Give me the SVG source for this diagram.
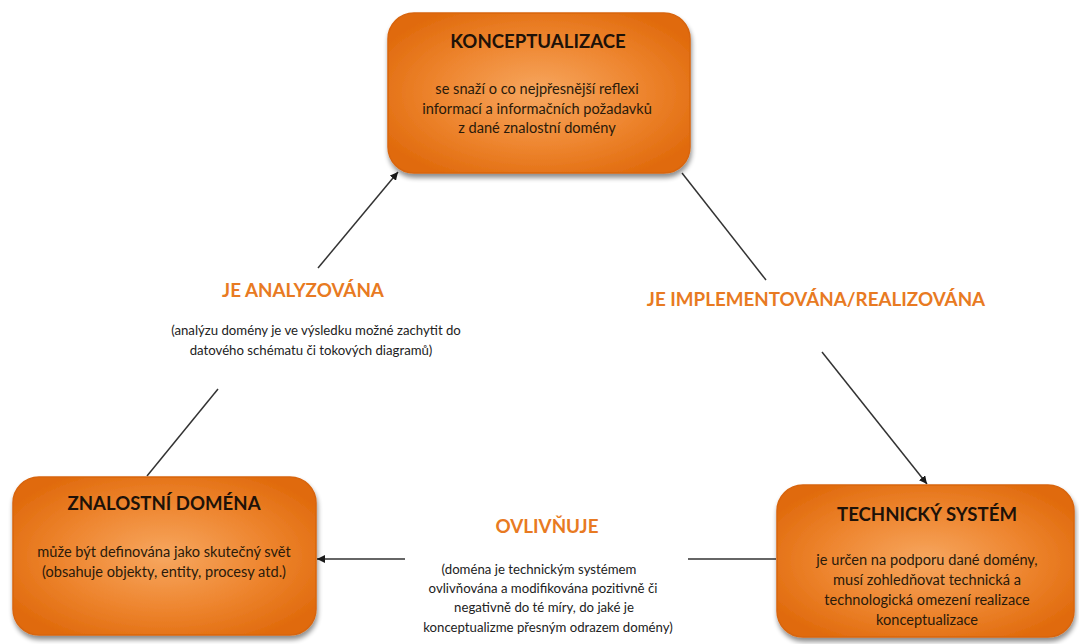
<svg xmlns="http://www.w3.org/2000/svg" width="1079" height="644" viewBox="0 0 1079 644">
  <defs>
    <radialGradient id="boxFill" cx="50%" cy="50%" r="60%">
      <stop offset="0%" stop-color="#f7a760"/>
      <stop offset="55%" stop-color="#ee8630"/>
      <stop offset="100%" stop-color="#e06a0c"/>
    </radialGradient>
    <filter id="shadow" x="-10%" y="-10%" width="125%" height="130%">
      <feGaussianBlur in="SourceAlpha" stdDeviation="2.5"/>
      <feOffset dx="1" dy="4" result="off"/>
      <feComponentTransfer><feFuncA type="linear" slope="0.45"/></feComponentTransfer>
      <feMerge><feMergeNode/><feMergeNode in="SourceGraphic"/></feMerge>
    </filter>
    <marker id="arrow" viewBox="0 0 10 10" refX="10" refY="5" markerWidth="8" markerHeight="8" orient="auto" markerUnits="userSpaceOnUse">
      <path d="M0,0 L10,5 L0,10 Z" fill="#1a1a1a"/>
    </marker>
    <style>
      .box { fill: url(#boxFill); stroke: #d8650e; stroke-width: 1.5; filter: url(#shadow); }
      .title { font-family: Lato, "Liberation Sans", sans-serif; font-weight: bold; font-size: 18.6px; fill: #1e1208; text-anchor: middle; }
      .body { font-family: Lato, "Liberation Sans", sans-serif; font-size: 14.6px; fill: #2a1a0a; text-anchor: middle; }
      .label { font-family: Lato, "Liberation Sans", sans-serif; font-weight: bold; font-size: 18.8px; fill: #e87a22; text-anchor: middle; }
      .note { font-family: Lato, "Liberation Sans", sans-serif; font-size: 13.2px; fill: #222; text-anchor: middle; }
      .conn { stroke: #333; stroke-width: 1.5; fill: none; }
    </style>
  </defs>

  <rect width="1079" height="644" fill="#ffffff"/>

  <!-- connectors -->
  <g id="connectors">
    <line class="conn" x1="147" y1="476" x2="218" y2="389"/>
    <line class="conn" x1="318" y1="268" x2="398" y2="172" marker-end="url(#arrow)"/>
    <line class="conn" x1="682" y1="173" x2="766" y2="280"/>
    <line class="conn" x1="822" y1="352" x2="927" y2="484" marker-end="url(#arrow)"/>
    <line class="conn" x1="776" y1="559" x2="688" y2="559"/>
    <line class="conn" x1="405" y1="559" x2="317" y2="559" marker-end="url(#arrow)"/>
  </g>

  <!-- edge labels -->
  <g id="label-analyzovana">
    <text class="label" x="303" y="297">JE ANALYZOVÁNA</text>
    <text class="note" x="316" y="335">(analýzu domény je ve výsledku možné zachytit do</text>
    <text class="note" x="311" y="355">datového schématu či tokových diagramů)</text>
  </g>
  <g id="label-implementovana">
    <text class="label" x="816" y="306">JE IMPLEMENTOVÁNA/REALIZOVÁNA</text>
  </g>
  <g id="label-ovlivnuje">
    <text class="label" x="547" y="533">OVLIVŇUJE</text>
    <text class="note" x="539" y="574">(doména je technickým systémem</text>
    <text class="note" x="543" y="593">ovlivňována a modifikována pozitivně či</text>
    <text class="note" x="544" y="612">negativně do té míry, do jaké je</text>
    <text class="note" x="548" y="632">konceptualizme přesným odrazem domény)</text>
  </g>

  <!-- nodes -->
  <g id="node-konceptualizace">
    <rect class="box" x="388" y="13" width="302" height="160" rx="26" ry="26"/>
    <text class="title" x="538" y="48">KONCEPTUALIZACE</text>
    <text class="body" x="537" y="94">se snaží o co nejpřesnější reflexi</text>
    <text class="body" x="537" y="114">informací a informačních požadavků</text>
    <text class="body" x="537" y="133">z dané znalostní domény</text>
  </g>

  <g id="node-znalostni-domena">
    <rect class="box" x="13" y="477" width="303" height="158" rx="26" ry="26"/>
    <text class="title" x="164" y="510">ZNALOSTNÍ DOMÉNA</text>
    <text class="body" x="164" y="557">může být definována jako skutečný svět</text>
    <text class="body" x="164" y="577">(obsahuje objekty, entity, procesy atd.)</text>
  </g>

  <g id="node-technicky-system">
    <rect class="box" x="777" y="485" width="297" height="152" rx="26" ry="26"/>
    <text class="title" x="927" y="521">TECHNICKÝ SYSTÉM</text>
    <text class="body" x="927" y="565">je určen na podporu dané domény,</text>
    <text class="body" x="927" y="585">musí zohledňovat technická a</text>
    <text class="body" x="927" y="605">technologická omezení realizace</text>
    <text class="body" x="927" y="625">konceptualizace</text>
  </g>
</svg>
